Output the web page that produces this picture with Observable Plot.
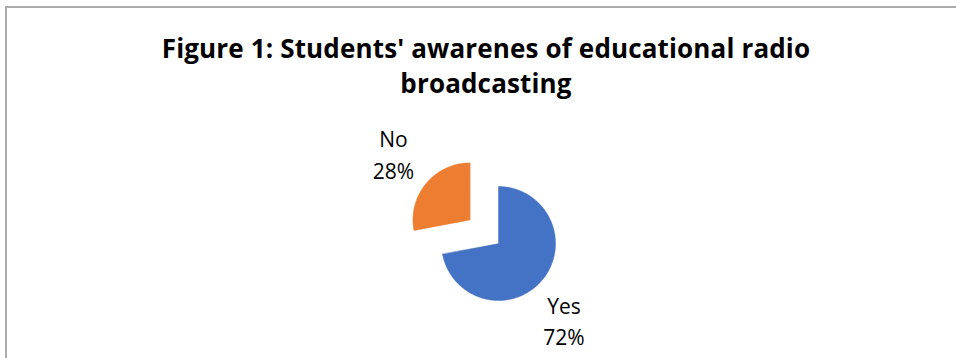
<!DOCTYPE html>
<html>
<head>
<meta charset="utf-8">
<script src="https://cdn.jsdelivr.net/npm/d3@7"></script>
<script src="https://cdn.jsdelivr.net/npm/@observablehq/plot@0.6"></script>
<style>
  html, body { margin: 0; padding: 0; background: #fff; width: 956px; height: 358px; overflow: hidden; }
  #box { position: absolute; left: 5px; top: 6px; width: 975px; height: 400px; border: 2px solid #ababab; box-sizing: border-box; }
  #title { position: absolute; left: 0; top: 31px; width: 972px; text-align: center; font-family: "Open Sans", Lato, sans-serif; font-weight: bold; font-size: 26px; letter-spacing: 0.15px; line-height: 35px; color: #000; font-variant-ligatures: none; }
  #chart { position: absolute; left: 0; top: 0; }
</style>
</head>
<body>
<div id="box"></div>
<div id="title">Figure 1: Students' awarenes of educational radio<br>broadcasting</div>
<div id="chart"></div>
<script>
// Data
const categories = ["Yes", "No"];
const values = [72, 28];
const percentLabels = ["72%", "28%"];
const colors = ["#4472C4", "#ED7D31"];
const explode = [0, 0.65]; // slice offset as a fraction of radius

const arcs = d3.pie().sort(null).startAngle(0).endAngle(2 * Math.PI)(values);

const slices = [];
arcs.forEach((a, i) => {
  const mid = (a.startAngle + a.endAngle) / 2;
  const ox = explode[i] * Math.sin(mid), oy = explode[i] * Math.cos(mid);
  slices.push({cat: categories[i], x: ox, y: oy});
  const n = Math.max(2, Math.ceil((a.endAngle - a.startAngle) / (Math.PI / 180)));
  for (let k = 0; k <= n; k++) {
    const t = a.startAngle + (a.endAngle - a.startAngle) * k / n;
    slices.push({cat: categories[i], x: ox + Math.sin(t), y: oy + Math.cos(t)});
  }
});

const labels = arcs.map((a, i) => {
  const mid = (a.startAngle + a.endAngle) / 2;
  const r = explode[i] + 1.65;
  return {cat: categories[i], text: categories[i] + "\n" + percentLabels[i], x: r * Math.sin(mid), y: r * Math.cos(mid)};
});

const cx = 498, cy = 243, R = 57;
const font = "'Open Sans', Lato, sans-serif";
const chart = Plot.plot({
  width: 956,
  height: 358,
  margin: 0,
  x: {domain: [-1, 1], range: [cx - R, cx + R], axis: null},
  y: {domain: [-1, 1], range: [cy + R, cy - R], axis: null},
  color: {domain: categories, range: colors},
  style: {background: "transparent"},
  marks: [
    Plot.line(slices, {x: "x", y: "y", z: "cat", fill: "cat", stroke: "cat", strokeWidth: 0.8, strokeOpacity: 0.6, curve: "linear-closed"}),
    Plot.text(labels.filter(d => d.cat === "No"), {x: "x", y: "y", text: "text", fontSize: 21, lineHeight: 1.5, fill: "#000", fontFamily: font, dx: -4, dy: -7}),
    Plot.text(labels.filter(d => d.cat === "Yes"), {x: "x", y: "y", text: "text", fontSize: 21, lineHeight: 1.5, fill: "#000", fontFamily: font, dx: -7, dy: 16})
  ]
});
document.getElementById("chart").appendChild(chart);
</script>
</body>
</html>
